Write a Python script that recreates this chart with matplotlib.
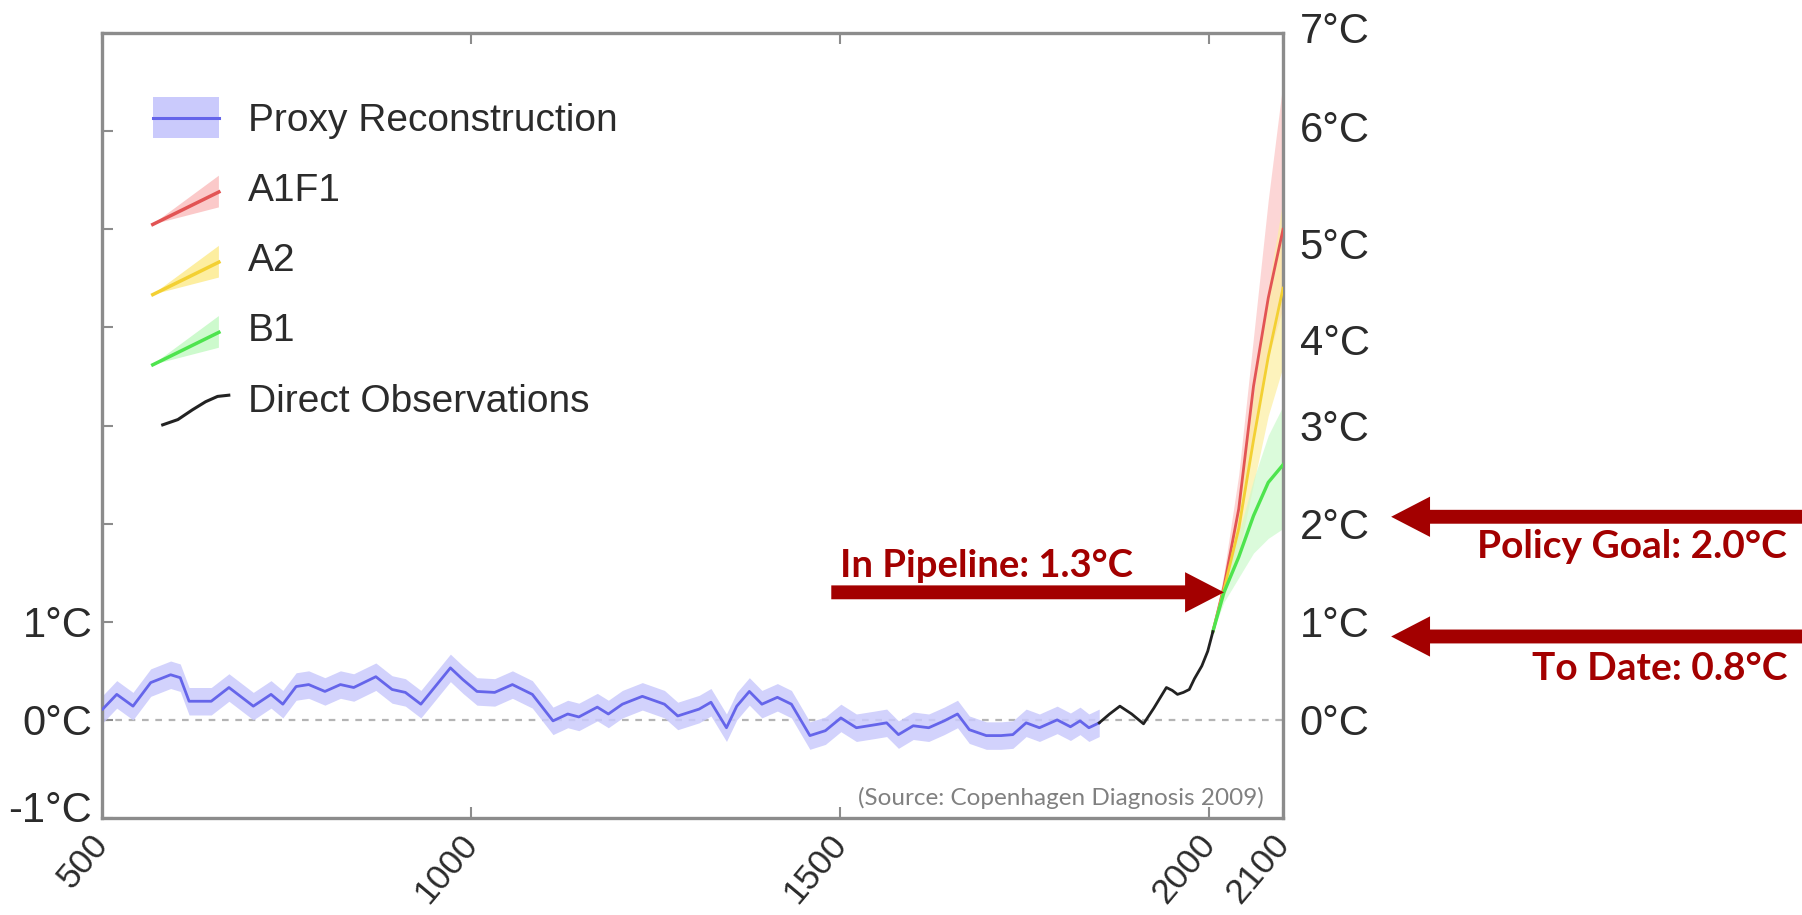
import matplotlib
matplotlib.use('Agg')
import matplotlib.pyplot as plt
import numpy as np
from matplotlib.legend_handler import HandlerBase
from matplotlib.patches import Polygon, Rectangle, FancyArrowPatch
from matplotlib.lines import Line2D
from matplotlib.transforms import blended_transform_factory, ScaledTranslation

# Proxy reconstruction, anomaly in °C
proxy_years = [501, 520, 542, 566, 593, 606, 618, 648, 672, 705, 729, 745, 763, 780,
               802, 823, 841, 871, 893, 911, 932, 972, 989, 1008, 1032, 1056, 1083,
               1111, 1131, 1146, 1171, 1186, 1205, 1232, 1262, 1280, 1309, 1325, 1346,
               1360, 1377, 1394, 1415, 1434, 1459, 1480, 1501, 1522, 1547, 1563, 1579,
               1599, 1620, 1641, 1659, 1675, 1698, 1718, 1734, 1752, 1770, 1794, 1812,
               1825, 1837, 1851]
proxy_temp = [0.11, 0.26, 0.14, 0.38, 0.46, 0.43, 0.19, 0.19, 0.33, 0.14, 0.26, 0.16,
              0.34, 0.36, 0.29, 0.36, 0.33, 0.44, 0.31, 0.28, 0.16, 0.53, 0.41, 0.29,
              0.28, 0.36, 0.26, -0.01, 0.06, 0.03, 0.13, 0.06, 0.16, 0.24, 0.16, 0.04,
              0.11, 0.18, -0.08, 0.14, 0.29, 0.16, 0.23, 0.16, -0.16, -0.11, 0.02,
              -0.08, -0.05, -0.03, -0.15, -0.06, -0.08, -0.01, 0.06, -0.10, -0.16,
              -0.16, -0.15, -0.03, -0.08, 0.00, -0.07, -0.01, -0.08, -0.03]
proxy_err = 0.14

# Direct observations
obs_years = [1851, 1865, 1879, 1895, 1911, 1925, 1942, 1950, 1957, 1965, 1973, 1980,
             1990, 1998, 2005]
obs_temp = [-0.03, 0.06, 0.14, 0.06, -0.04, 0.12, 0.33, 0.30, 0.26, 0.28, 0.31, 0.42,
            0.55, 0.70, 0.90]

# Scenario projections
proj_years = [2005, 2020, 2040, 2060, 2080, 2100]
b1_mid = [0.90, 1.30, 1.66, 2.08, 2.42, 2.60]
b1_low = [0.90, 1.20, 1.45, 1.70, 1.85, 1.95]
b1_high = [0.90, 1.40, 1.90, 2.45, 2.90, 3.20]
a2_mid = [0.90, 1.33, 1.95, 2.85, 3.70, 4.40]
a2_low = [0.90, 1.25, 1.70, 2.40, 3.10, 3.60]
a2_high = [0.90, 1.45, 2.20, 3.30, 4.40, 5.30]
a1f1_mid = [0.90, 1.36, 2.15, 3.40, 4.30, 5.00]
a1f1_low = [0.90, 1.25, 1.85, 2.90, 3.70, 4.20]
a1f1_high = [0.90, 1.50, 2.50, 3.90, 5.30, 6.50]

x_ticks = [500, 1000, 1500, 2000, 2100]
y_ticks = [-1, 0, 1, 2, 3, 4, 5, 6, 7]
left_labels = ['-1°C', '0°C', '1°C', '', '', '', '', '', '']
right_labels = ['', '0°C', '1°C', '2°C', '3°C', '4°C', '5°C', '6°C', '7°C']

# annotated levels
pipeline = 1.3
policy_goal = 2.07
to_date = 0.85

PROXY_LINE = '#6565ea'
PROXY_BAND = '#cacafc'
DARK_RED = '#a30000'
SPINE = '#8c8c8c'
TEXT = '#2b2b2b'
TICK_FONT = 'Liberation Sans'


class ProxyHandler(HandlerBase):
    def create_artists(self, legend, orig_handle, xdescent, ydescent, width, height,
                       fontsize, trans):
        x0, y0 = -xdescent, -ydescent
        band = Rectangle((x0, y0), width, height, facecolor=PROXY_BAND,
                         edgecolor='none', transform=trans)
        line = Line2D([x0, x0 + width], [y0 + height / 2] * 2, color=PROXY_LINE,
                      lw=2.2, transform=trans)
        return [band, line]


class WedgeHandler(HandlerBase):
    def __init__(self, band_color):
        super().__init__()
        self.band_color = band_color

    def create_artists(self, legend, orig_handle, xdescent, ydescent, width, height,
                       fontsize, trans):
        x0, y0 = -xdescent, -ydescent
        wedge = Polygon([(x0, y0 - 0.4 * height), (x0 + width, y0 + 0.8 * height),
                         (x0 + width, y0 + 0.02 * height)], closed=True,
                        facecolor=self.band_color, edgecolor='none', transform=trans)
        line = Line2D([x0, x0 + width], [y0 - 0.4 * height, y0 + 0.4 * height],
                      color=orig_handle.get_color(), lw=2.5, transform=trans)
        return [wedge, line]


class ObsHandler(HandlerBase):
    def create_artists(self, legend, orig_handle, xdescent, ydescent, width, height,
                       fontsize, trans):
        x0, y0 = -xdescent, -ydescent
        fx = [0.15, 0.38, 0.6, 0.8, 0.98, 1.15]
        fy = [-0.15, -0.02, 0.22, 0.42, 0.55, 0.58]
        line = Line2D([x0 + f * width for f in fx], [y0 + f * height for f in fy],
                      color='#222222', lw=2.2, transform=trans)
        return [line]


fig = plt.figure(figsize=(18.02, 9.15), dpi=100)
ax = fig.add_axes([0.0566, 0.106, 0.6554, 0.8579])

ax.axhline(0, color='#b4b4b4', lw=1.6, dashes=(3, 3), zorder=1)

p = np.array(proxy_temp)
ax.fill_between(proxy_years, p - proxy_err, p + proxy_err, color=PROXY_BAND,
                lw=0, alpha=0.85, zorder=2)
proxy_line, = ax.plot(proxy_years, proxy_temp, color=PROXY_LINE, lw=2, zorder=3)

ax.fill_between(proj_years, a1f1_low, a1f1_high, color='#fbc9c9', lw=0, alpha=0.75, zorder=2)
ax.fill_between(proj_years, a2_low, a2_high, color='#fdeea0', lw=0, alpha=0.7, zorder=2)
ax.fill_between(proj_years, b1_low, b1_high, color='#cdfacd', lw=0, alpha=0.7, zorder=2)
a1f1_line, = ax.plot(proj_years, a1f1_mid, color='#e25454', lw=2, zorder=3)
a2_line, = ax.plot(proj_years, a2_mid, color='#f3d033', lw=2, zorder=3)
b1_line, = ax.plot(proj_years, b1_mid, color='#4ee44e', lw=2.4, zorder=4)
obs_line, = ax.plot(obs_years, obs_temp, color='#222222', lw=2, zorder=4)

ax.set_xlim(500, 2100)
ax.set_ylim(-1, 7)

for s in ax.spines.values():
    s.set_color(SPINE)
    s.set_linewidth(2.4)

ax.set_xticks(x_ticks)
ax.set_xticklabels(x_ticks, rotation=50, ha='right', va='center',
                   rotation_mode='anchor', family=TICK_FONT, fontsize=25.5, color=TEXT)
ax.set_yticks(y_ticks)
ax.set_yticklabels(left_labels, family=TICK_FONT, fontsize=30, color=TEXT)
ax.tick_params(axis='both', direction='in', color=SPINE, width=1.5, length=8,
               top=True, right=True)
ax.tick_params(axis='y', pad=7)
ax.tick_params(axis='x', pad=15)

ax2 = ax.twinx()
ax2.set_ylim(-1, 7)
ax2.set_yticks(y_ticks)
ax2.set_yticklabels(right_labels, family=TICK_FONT, fontsize=30, color=TEXT)
ax2.tick_params(axis='y', length=0, pad=12)
for s in ax2.spines.values():
    s.set_visible(False)

leg = ax.legend([proxy_line, a1f1_line, a2_line, b1_line, obs_line],
                ['Proxy Reconstruction', 'A1F1', 'A2', 'B1', 'Direct Observations'],
                handler_map={proxy_line: ProxyHandler(),
                             a1f1_line: WedgeHandler('#fbc9c9'),
                             a2_line: WedgeHandler('#fdeea0'),
                             b1_line: WedgeHandler('#cdfacd'),
                             obs_line: ObsHandler()},
                loc='upper left', bbox_to_anchor=(0.043, 0.918), frameon=False,
                borderpad=0, borderaxespad=0, handlelength=1.7, handleheight=1.23,
                handletextpad=0.75, labelspacing=0.74,
                prop={'family': 'Liberation Sans', 'size': 28})
for t in leg.get_texts():
    t.set_color(TEXT)

# arrows and labels
arrow_style = 'simple,head_length=28,head_width=29,tail_width=10'
ax.annotate('', xy=(2020, pipeline), xytext=(1488, pipeline),
            arrowprops=dict(arrowstyle=arrow_style, mutation_scale=1, color=DARK_RED,
                            lw=0, shrinkA=0, shrinkB=0), zorder=6)
ax.text(1500, pipeline + 0.16, 'In Pipeline: 1.3°C', color=DARK_RED, fontsize=27.5,
        family='Lato', fontweight='bold', va='baseline', ha='left')

side = blended_transform_factory(fig.transFigure, ax.transData)
for level in (policy_goal, to_date):
    fig.add_artist(FancyArrowPatch((1.01, level), (0.772, level), transform=side,
                                   arrowstyle=arrow_style, mutation_scale=1,
                                   color=DARK_RED, lw=0, shrinkA=0, shrinkB=0))
fig.text(0.9917, 0.390, 'Policy Goal: 2.0°C', color=DARK_RED, fontsize=28,
         family='Lato', fontweight='bold', ha='right', va='baseline')
fig.text(0.9917, 0.257, 'To Date: 0.8°C', color=DARK_RED, fontsize=28,
         family='Lato', fontweight='bold', ha='right', va='baseline')

ax.text(0.984, 0.016, '(Source: Copenhagen Diagnosis 2009)', transform=ax.transAxes,
        ha='right', va='baseline', color='#808080', fontsize=17.5, family='Lato')

# small vertical nudges of some tick labels, as in the original artwork
nudges_left = {0: 12}
nudges_right = {8: 6, 7: 5, 6: -14, 5: -12}
for i, lab in enumerate(ax.get_yticklabels()):
    if i in nudges_left:
        lab.set_transform(lab.get_transform() +
                          ScaledTranslation(0, nudges_left[i] / 100, fig.dpi_scale_trans))
for i, lab in enumerate(ax2.get_yticklabels()):
    if i in nudges_right:
        lab.set_transform(lab.get_transform() +
                          ScaledTranslation(0, nudges_right[i] / 100, fig.dpi_scale_trans))

fig.savefig('out.png', dpi=100)
